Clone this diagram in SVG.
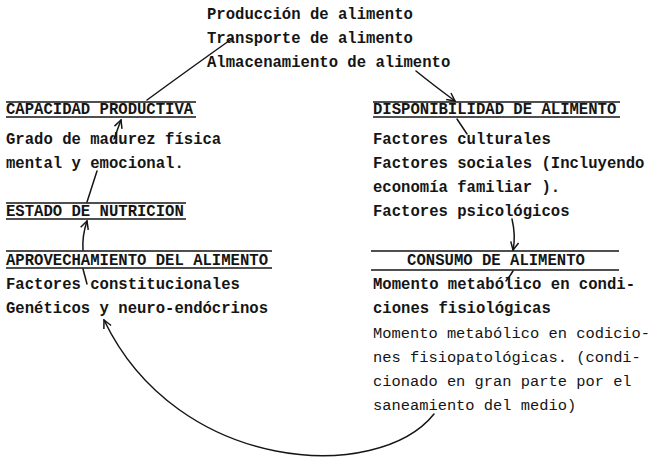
<svg xmlns="http://www.w3.org/2000/svg" width="657" height="462" viewBox="0 0 657 462">
<defs>
<style>
text{font-family:"Liberation Mono","DejaVu Sans Mono",monospace;font-size:15.6px;font-weight:bold;fill:#151515}
.b{font-weight:normal;font-size:15.4px}
.rule{stroke:#151515;stroke-width:1.4;fill:none}
.con{stroke:#151515;stroke-width:1.5;fill:none;stroke-linecap:round}
</style>
<marker id="ah" viewBox="0 0 10 10" refX="9" refY="5" markerWidth="10" markerHeight="10" markerUnits="userSpaceOnUse" orient="auto">
<path d="M1,1 L9,5 L1,9" fill="none" stroke="#151515" stroke-width="1.5"/>
</marker>
</defs>
<rect width="657" height="462" fill="#fff"/>

<g id="produccion">
<text x="207" y="19">Producción de alimento</text>
<text x="207" y="43">Transporte de alimento</text>
<text x="207" y="67">Almacenamiento de alimento</text>
</g>

<g id="capacidad">
<line class="rule" x1="6" y1="102" x2="196" y2="102"/>
<text x="6" y="114">CAPACIDAD PRODUCTIVA</text>
<line class="rule" x1="6" y1="117" x2="196" y2="117"/>
<text x="6" y="144">Grado de madurez física</text>
<text x="6" y="168">mental y emocional.</text>
</g>

<g id="disponibilidad">
<line class="rule" x1="373" y1="102" x2="620" y2="102"/>
<text x="373" y="114">DISPONIBILIDAD DE ALIMENTO</text>
<line class="rule" x1="373" y1="117" x2="620" y2="117"/>
<text x="373" y="144">Factores culturales</text>
<text x="373" y="168">Factores sociales (Incluyendo</text>
<text x="373" y="192">economía familiar ).</text>
<text x="373" y="216">Factores psicológicos</text>
</g>

<g id="estado">
<line class="rule" x1="6" y1="203" x2="186" y2="203"/>
<text x="6" y="216">ESTADO DE NUTRICION</text>
<line class="rule" x1="6" y1="219" x2="186" y2="219"/>
</g>

<g id="aprovechamiento">
<line class="rule" x1="6" y1="251" x2="272" y2="251"/>
<text x="6" y="265">APROVECHAMIENTO DEL ALIMENTO</text>
<line class="rule" x1="6" y1="268" x2="272" y2="268"/>
<text x="6" y="289">Factores constitucionales</text>
<text x="6" y="313">Genéticos y neuro-endócrinos</text>
</g>

<g id="consumo">
<line class="rule" x1="371" y1="251" x2="619" y2="251"/>
<text x="496" y="265" text-anchor="middle">CONSUMO DE ALIMENTO</text>
<line class="rule" x1="371" y1="270" x2="619" y2="270"/>
<text x="373" y="289">Momento metabólico en condi-</text>
<text x="373" y="313">ciones fisiológicas</text>
<text x="373" y="338" class="b">Momento metabólico en codicio-</text>
<text x="373" y="362" class="b">nes fisiopatológicas. (condi-</text>
<text x="373" y="386" class="b">cionado en gran parte por el</text>
<text x="373" y="410" class="b">saneamiento del medio)</text>
</g>

<g id="connectors">
<path class="con" d="M147,100 Q188,70 233,38"/>
<path class="con" d="M416,71 Q432,84 455,101" marker-end="url(#ah)"/>
<path class="con" d="M457,119 L467,134"/>
<path class="con" d="M512,219 Q516,236 513,250" marker-end="url(#ah)"/>
<path class="con" d="M513,271 Q510,276 506,281"/>
<path class="con" d="M97,171 L87,202"/>
<path class="con" d="M114,139 L121,120" marker-end="url(#ah)"/>
<path class="con" d="M83,250 Q82,236 87,221" marker-end="url(#ah)"/>
<path class="con" d="M83,269 L87,284"/>
<path class="con" d="M434,414 C378,484 178,474 104,320" marker-end="url(#ah)"/>
</g>
</svg>
